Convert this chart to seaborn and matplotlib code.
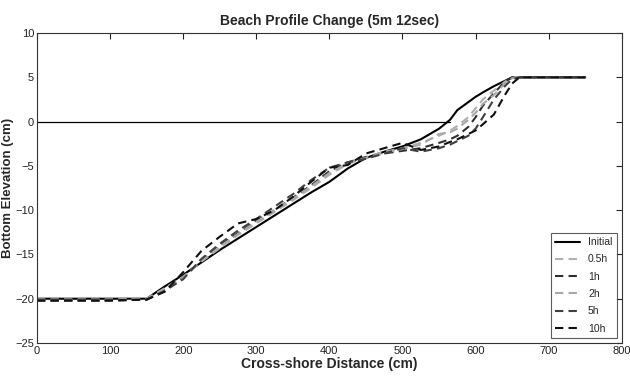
import matplotlib
matplotlib.use("Agg")
import matplotlib.pyplot as plt
import seaborn as sns
import pandas as pd
from matplotlib import font_manager

x_cm = [0, 50, 100, 150, 175, 200, 225, 250, 275, 300, 325, 350, 375, 400, 425,
        450, 475, 500, 525, 550, 565, 575, 590, 600, 610, 625, 640, 650, 660, 700, 750]

initial = [-20, -20, -20, -20, -18.6, -17.3, -15.9, -14.5, -13.2, -11.9, -10.6, -9.3, -8.0, -6.8, -5.3,
           -4.1, -3.4, -2.8, -2.0, -0.8, 0.2, 1.3, 2.2, 2.8, 3.3, 4.0, 4.6, 5.0, 5.0, 5.0, 5.0]
h05 = [-20.1, -20.1, -20.1, -20.0, -18.8, -17.5, -15.8, -14.3, -12.8, -11.5, -10.2, -8.9, -7.5, -6.0, -4.8,
       -4.0, -3.4, -3.0, -2.4, -1.6, -1.0, -0.5, 0.5, 1.5, 2.5, 3.5, 4.5, 5.0, 5.0, 5.0, 5.0]
h1 = [-20.2, -20.2, -20.2, -20.1, -19.0, -17.6, -15.6, -14.0, -12.6, -11.2, -10.0, -8.6, -7.2, -5.6, -4.6,
      -4.0, -3.6, -3.3, -3.0, -2.4, -2.0, -1.6, -0.6, 0.5, 1.8, 3.2, 4.5, 5.0, 5.0, 5.0, 5.0]
h2 = [-20.1, -20.1, -20.1, -20.0, -18.9, -17.6, -15.7, -14.1, -12.7, -11.3, -10.0, -8.7, -7.3, -5.8, -4.7,
      -4.1, -3.5, -3.1, -2.6, -1.4, -1.2, -0.8, 0.2, 1.0, 2.0, 3.0, 4.3, 4.9, 5.0, 5.0, 5.0]
h5 = [-20.2, -20.2, -20.2, -20.1, -19.1, -17.8, -15.5, -13.8, -12.3, -11.0, -9.6, -8.2, -6.6, -5.2, -4.6,
      -4.2, -3.6, -3.0, -3.4, -3.0, -2.6, -2.2, -1.6, -0.8, 0.5, 2.5, 4.0, 4.8, 5.0, 5.0, 5.0]
h10 = [-20.2, -20.2, -20.2, -20.1, -19.2, -17.0, -14.6, -13.0, -11.5, -11.0, -10.0, -8.5, -6.8, -5.2, -4.9,
       -3.6, -3.0, -2.4, -3.2, -2.8, -2.3, -2.0, -1.4, -1.0, -0.3, 0.8, 3.0, 4.3, 5.0, 5.0, 5.0]

series_names = ["Initial", "0.5h", "1h", "2h", "5h", "10h"]
series_values = [initial, h05, h1, h2, h5, h10]
series_colors = ["#000000", "#b0b0b0", "#303030", "#a8a8a8", "#404040", "#101010"]
series_styles = ["-", "--", "--", "--", "--", "--"]

zero_line_x = [0, 565]
zero_line_y = [0, 0]

xticks = [0, 100, 200, 300, 400, 500, 600, 700, 800]
yticks = [-25, -20, -15, -10, -5, 0, 5, 10]

sns.set_theme(style="white")
names = {f.name for f in font_manager.fontManager.ttflist}
narrow = "Liberation Sans Narrow" if "Liberation Sans Narrow" in names else "Liberation Sans"
plt.rcParams["font.family"] = [narrow, "DejaVu Sans"]

fig = plt.figure(figsize=(6.3, 3.8), dpi=100)
ax = fig.add_axes([0.0587, 0.0974, 0.9283, 0.8156])

sns.lineplot(x=zero_line_x, y=zero_line_y, ax=ax, color="black", linewidth=0.9)

for name, vals, col, ls in zip(series_names, series_values, series_colors, series_styles):
    df = pd.DataFrame({"x": x_cm, "y": vals})
    sns.lineplot(data=df, x="x", y="y", ax=ax, color=col,
                 linewidth=1.5, label=name, sort=False)
    ax.lines[-1].set_linestyle(ls)
    if ls == "--":
        ax.lines[-1].set_dashes([4, 2.5])

ax.set_xlim(0, 800)
ax.set_ylim(-25, 10)
ax.set_xticks(xticks)
ax.set_yticks(yticks)
ax.tick_params(direction="in", top=True, right=True, length=4, width=0.8,
               labelsize=8, colors="#222222", pad=2)
for s in ax.spines.values():
    s.set_color("#333333")
    s.set_linewidth(0.8)

ax.set_title("Beach Profile Change (5m 12sec)", fontsize=10, fontweight="bold", pad=6)
ax.set_xlabel("Cross-shore Distance (cm)", fontsize=10, fontweight="bold", labelpad=1)
ax.set_ylabel("Bottom Elevation (cm)", fontsize=9.5, fontweight="bold",
              family=["Liberation Sans", "DejaVu Sans"], labelpad=1)

leg = ax.legend(loc="lower right", fontsize=7.5, frameon=True, handlelength=2.4,
                borderaxespad=0.5, labelspacing=0.7, fancybox=False)
leg.get_frame().set_edgecolor("#333333")
leg.get_frame().set_linewidth(0.8)
for lh, ls in zip(leg.get_lines(), series_styles):
    lh.set_linestyle(ls)
    if ls == "--":
        lh.set_dashes([4, 2.5])

fig.savefig("out.png", dpi=100)
